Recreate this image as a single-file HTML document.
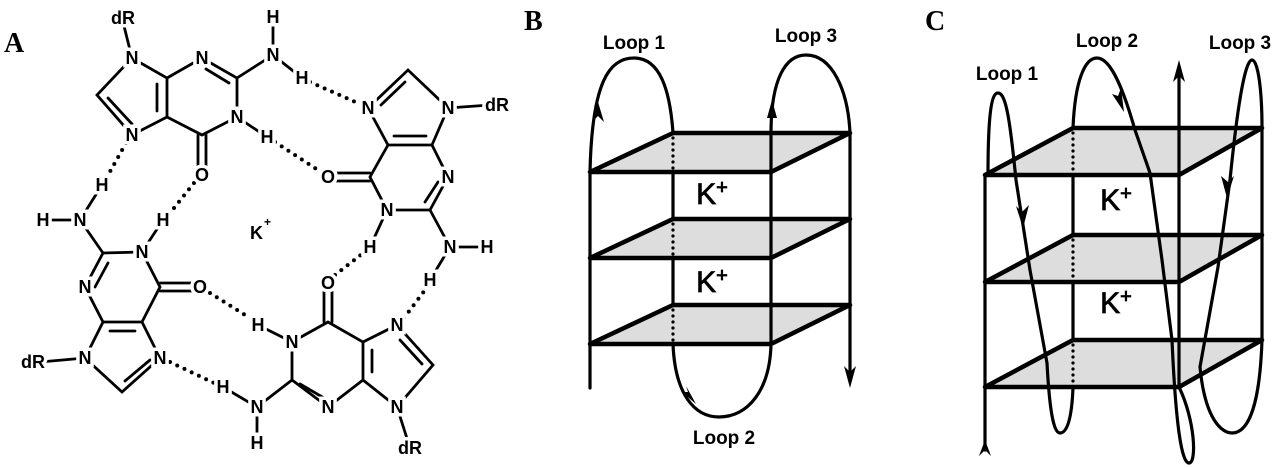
<!DOCTYPE html>
<html><head><meta charset="utf-8"><style>
html,body{margin:0;padding:0;background:#fff;}
svg{display:block}
.at{font-family:"Liberation Sans",sans-serif;font-weight:bold;font-size:18px;fill:#000;stroke:#fff;stroke-width:7px;paint-order:stroke;text-anchor:middle;dominant-baseline:central}
.lb{font-family:"Liberation Sans Narrow","Liberation Sans",sans-serif;font-weight:bold;font-size:19px;text-anchor:middle}
.kp{font-family:"Liberation Sans",sans-serif;font-size:30px;text-anchor:middle;stroke:#000;stroke-width:0.8px}
.pl{font-family:"Liberation Serif",serif;font-weight:bold;font-size:28px}
</style></head><body>
<svg width="1280" height="468" viewBox="0 0 1280 468" xmlns="http://www.w3.org/2000/svg">
<rect width="1280" height="468" fill="#fff"/>
<text class="pl" x="4" y="52">A</text>
<text class="pl" x="524" y="30">B</text>
<text class="pl" x="925" y="30">C</text>

<!-- PANEL A bonds -->
<g stroke="#000" stroke-width="2.8" fill="none" stroke-linecap="round">
<polyline points="132,58 97,95 132,135 167,117 167,78 132,58"/>
<polyline points="167,78 202,58 237,78 237,117 202,135 167,117"/>
<line x1="108" y1="98" x2="132" y2="124"/><line x1="157" y1="84" x2="157" y2="111"/>
<line x1="206" y1="69" x2="229" y2="83"/>
<line x1="198" y1="135" x2="198" y2="168"/><line x1="206" y1="135" x2="206" y2="168"/>
<line x1="132" y1="58" x2="123" y2="22"/><line x1="237" y1="78" x2="273" y2="55"/>
<line x1="273" y1="55" x2="273" y2="20"/><line x1="273" y1="55" x2="302" y2="78"/>
<line x1="237" y1="117" x2="267" y2="137"/>
<polyline points="368,108 408,70 448,108 432,145 388,145 368,108"/>
<polyline points="388,145 370,177 387,210 430,210 448,177 432,145"/>
<line x1="381" y1="105" x2="405" y2="82"/><line x1="394" y1="136" x2="426" y2="136"/>
<line x1="438" y1="182" x2="425" y2="202"/>
<line x1="335" y1="173" x2="370" y2="173"/><line x1="335" y1="181" x2="370" y2="181"/>
<line x1="448" y1="108" x2="490" y2="105"/><line x1="387" y1="210" x2="370" y2="247"/>
<line x1="430" y1="210" x2="450" y2="247"/><line x1="450" y1="247" x2="487" y2="247"/><line x1="450" y1="247" x2="430" y2="280"/>
<polyline points="328,322 292,342 292,380 328,407 363,380 363,342 328,322"/>
<polyline points="363,342 397,325 433,365 397,407 363,380"/>
<line x1="300" y1="384" x2="324" y2="398"/><line x1="372" y1="350" x2="372" y2="372"/>
<line x1="400" y1="340" x2="422" y2="364"/>
<line x1="324" y1="290" x2="324" y2="322"/><line x1="332" y1="290" x2="332" y2="322"/>
<line x1="292" y1="342" x2="258" y2="325"/><line x1="292" y1="380" x2="257" y2="407"/>
<line x1="257" y1="407" x2="257" y2="443"/><line x1="257" y1="407" x2="223" y2="387"/>
<line x1="397" y1="407" x2="410" y2="448"/>
<polyline points="142,252 103,253 85,287 103,322 142,322 160,287 142,252"/>
<polyline points="103,322 85,358 122,392 160,358 142,322"/>
<line x1="108" y1="263" x2="95" y2="287"/><line x1="110" y1="331" x2="135" y2="331"/>
<line x1="125" y1="381" x2="150" y2="360"/>
<line x1="160" y1="283" x2="193" y2="283"/><line x1="160" y1="291" x2="193" y2="291"/>
<line x1="142" y1="252" x2="163" y2="220"/><line x1="103" y1="253" x2="80" y2="220"/>
<line x1="80" y1="220" x2="43" y2="220"/><line x1="80" y1="220" x2="102" y2="185"/>
<line x1="85" y1="358" x2="40" y2="362"/>
</g>
<g stroke="#000" stroke-width="4" stroke-linecap="round" stroke-dasharray="0 8" fill="none">
<line x1="310" y1="82" x2="360" y2="104"/>
<line x1="275" y1="142" x2="318" y2="170"/>
<line x1="126" y1="143" x2="107" y2="177"/>
<line x1="194" y1="183" x2="170" y2="213"/>
<line x1="210" y1="293" x2="250" y2="318"/>
<line x1="170" y1="362" x2="214" y2="383"/>
<line x1="335" y1="275" x2="362" y2="254"/>
<line x1="404" y1="318" x2="425" y2="290"/>
</g>
<g class="at">
<text x="132" y="58">N</text><text x="132" y="135">N</text><text x="202" y="58">N</text>
<text x="237" y="117">N</text><text x="202" y="175">O</text><text x="273" y="55">N</text>
<text x="273" y="17">H</text><text x="302" y="78">H</text><text x="267" y="137">H</text>
<text x="123" y="18">dR</text>
<text x="368" y="108">N</text><text x="448" y="108">N</text><text x="497" y="105">dR</text>
<text x="328" y="177">O</text><text x="448" y="177">N</text><text x="387" y="210">N</text>
<text x="370" y="247">H</text><text x="450" y="247">N</text><text x="487" y="247">H</text><text x="430" y="280">H</text>
<text x="328" y="283">O</text><text x="292" y="342">N</text><text x="258" y="325">H</text>
<text x="257" y="407">N</text><text x="257" y="443">H</text><text x="223" y="387">H</text>
<text x="328" y="407">N</text><text x="397" y="325">N</text><text x="397" y="407">N</text><text x="410" y="448">dR</text>
<text x="142" y="252">N</text><text x="163" y="220">H</text><text x="80" y="220">N</text>
<text x="43" y="220">H</text><text x="102" y="185">H</text><text x="85" y="287">N</text>
<text x="200" y="287">O</text><text x="85" y="358">N</text><text x="33" y="362">dR</text><text x="160" y="358">N</text>
</g>
<text x="250" y="239" style="font-family:'Liberation Sans',sans-serif;font-weight:bold;font-size:18px">K</text>
<text x="264" y="226" style="font-family:'Liberation Sans',sans-serif;font-weight:bold;font-size:12px">+</text>

<!-- PANEL B -->
<g stroke="#000" fill="none" stroke-linecap="round">
<g fill="#ddd" stroke-width="4.5" stroke-linejoin="round">
<polygon points="590,172 771,172 850,133 673,133"/>
<polygon points="590,258 771,258 850,219 673,219"/>
<polygon points="590,344 771,344 850,305 673,305"/>
</g>
<g stroke-width="3.2">
<line x1="590" y1="172" x2="590" y2="388"/>
<line x1="771" y1="133" x2="771" y2="344"/>
<line x1="850" y1="133" x2="850" y2="380"/>
<line x1="673" y1="172" x2="673" y2="219"/><line x1="673" y1="258" x2="673" y2="305"/>
</g>
<g stroke-width="3.2" stroke-dasharray="0 6">
<line x1="673" y1="138" x2="673" y2="170"/><line x1="673" y1="224" x2="673" y2="256"/><line x1="673" y1="310" x2="673" y2="342"/>
</g>
<g stroke-width="3.2">
<path d="M590,172 C592,80 610,58 634,58 C660,58 670,90 673,133"/>
<path d="M771,133 C771,80 785,55 806,55 C832,55 848,90 850,133"/>
<path d="M673,344 C675,395 695,417 719,417 C748,417 770,390 771,344"/>
</g>
<g fill="#000" stroke="none">
<polygon points="598,102 592,122 598,116 604,122"/>
<polygon points="777,118 772,100 767,118"/>
<polygon points="850,388 844,366 850,372 856,366"/>
<polygon points="696,404 682,392 688,392 686,386"/>
</g>
</g>
<text class="lb" x="634" y="49">Loop 1</text>
<text class="lb" x="806" y="42">Loop 3</text>
<text class="lb" x="724" y="444">Loop 2</text>
<text class="kp" x="712" y="204">K<tspan font-size="20" dy="-10">+</tspan></text>
<text class="kp" x="712" y="292">K<tspan font-size="20" dy="-10">+</tspan></text>

<!-- PANEL C -->
<g stroke="#000" fill="none" stroke-linecap="round">
<g fill="#ddd" stroke-width="4.5" stroke-linejoin="round">
<polygon points="985,175 1179,175 1262,128 1073,128"/>
<polygon points="985,282 1179,282 1262,235 1073,235"/>
<polygon points="985,387 1179,387 1262,340 1073,340"/>
</g>
<g stroke-width="3.2">
<line x1="985" y1="175" x2="985" y2="450"/>
<line x1="1179" y1="67" x2="1179" y2="387"/>
<line x1="1262" y1="128" x2="1262" y2="340"/>
<line x1="1073" y1="175" x2="1073" y2="235"/><line x1="1073" y1="282" x2="1073" y2="340"/>
</g>
<g stroke-width="3.2" stroke-dasharray="0 6">
<line x1="1073" y1="133" x2="1073" y2="173"/><line x1="1073" y1="240" x2="1073" y2="280"/><line x1="1073" y1="345" x2="1073" y2="385"/>
</g>
<g stroke-width="3.2">
<path d="M988,175 C988,110 992,93 998,93 C1006,93 1010,120 1016,180 L1030,270 L1047,363 C1050,420 1055,433 1060,433 C1068,433 1072,415 1073,387"/>
<path d="M1073,128 C1075,80 1085,58 1097,58 C1112,58 1125,95 1135,130 L1150,173 L1162,260 L1172,340 C1176,430 1182,463 1189,463 C1197,463 1195,420 1179,387"/>
<path d="M1262,128 C1262,90 1258,60 1252,60 C1244,60 1236,120 1230,180 L1218,267 L1200,367 C1205,420 1222,433 1232,433 C1250,433 1260,400 1262,340"/>
</g>
<g fill="#000" stroke="none">
<polygon points="1023,228 1016,206 1022,212 1029,205"/>
<polygon points="1124,112 1112,94 1118,96 1121,88"/>
<polygon points="1227,198 1221,176 1228,182 1234,176"/>
<polygon points="1179,60 1173,82 1179,76 1185,82"/>
<polygon points="985,440 979,456 985,450 991,456"/>
</g>
</g>
<text class="lb" x="1007" y="80">Loop 1</text>
<text class="lb" x="1107" y="47">Loop 2</text>
<text class="lb" x="1240" y="49">Loop 3</text>
<text class="kp" x="1116" y="210">K<tspan font-size="20" dy="-10">+</tspan></text>
<text class="kp" x="1116" y="313">K<tspan font-size="20" dy="-10">+</tspan></text>
</svg>
</body></html>
